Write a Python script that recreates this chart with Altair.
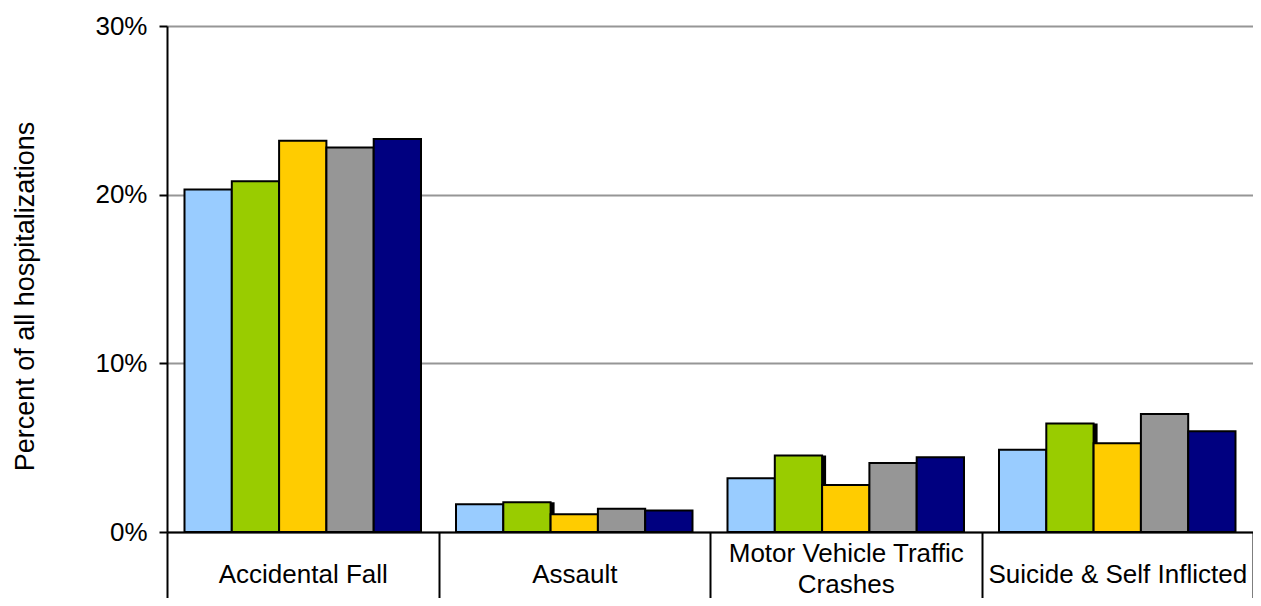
import altair as alt
import pandas as pd

categories = ["Accidental Fall", "Assault", "Motor Vehicle Traffic Crashes", "Suicide & Self Inflicted"]
series = ["Series 1", "Series 2", "Series 3", "Series 4", "Series 5"]
colors = ["#99CCFF", "#99CC00", "#FFCC00", "#969696", "#000080"]

series1 = [20.3, 1.64, 3.19, 4.88]
series2 = [20.8, 1.77, 4.53, 6.44]
series3 = [23.2, 1.05, 2.79, 5.26]
series4 = [22.8, 1.38, 4.09, 6.99]
series5 = [23.3, 1.28, 4.43, 5.97]
all_values = [series1, series2, series3, series4, series5]

y_ticks = [0, 10, 20, 30]

rows = []
for s, vals in zip(series, all_values):
    for c, v in zip(categories, vals):
        rows.append({"category": c, "series": s, "value": v})
df = pd.DataFrame(rows)

FONT = "Liberation Sans"
W = 1086
H = 506
CAT_W = W / len(categories)

x_enc = alt.X(
    "category:N",
    sort=categories,
    scale=alt.Scale(paddingInner=0, paddingOuter=0),
    axis=alt.Axis(
        title=None,
        labelAngle=0,
        tickBand="extent",
        tickSize=66,
        tickWidth=2,
        tickColor="black",
        domainColor="black",
        domainWidth=2,
        labelFont=FONT,
        labelFontSize=26,
        labelColor="black",
        labelLimit=0,
        labelPadding=-36.7,
        labelLineHeight=31,
        labelBaseline={
            "condition": {"test": "datum.value === 'Motor Vehicle Traffic Crashes'", "value": "alphabetic"},
            "value": "top",
        },
        labelExpr="datum.value === 'Motor Vehicle Traffic Crashes' ? ['Motor Vehicle Traffic', 'Crashes'] : datum.label",
    ),
)

x_off = alt.XOffset(
    "series:N",
    sort=series,
    scale=alt.Scale(domain=series, paddingInner=0, paddingOuter=0.37),
)

x_off_shadow = alt.XOffset(
    "series:N",
    sort=series,
    scale=alt.Scale(domain=series, paddingInner=0, paddingOuter=0.37, range=[4, CAT_W + 4]),
)

y_enc = alt.Y(
    "value:Q",
    scale=alt.Scale(domain=[0, 30], nice=False, zero=True),
    axis=alt.Axis(
        values=y_ticks,
        labelExpr="datum.value + '%'",
        title="Percent of all hospitalizations",
        titleFont=FONT,
        titleFontSize=27,
        titleFontWeight="normal",
        titleColor="black",
        titleBaseline="alphabetic",
        titleX=-134,
        titleY=270,
        labelFont=FONT,
        labelFontSize=26,
        labelColor="black",
        labelPadding=12,
        tickSize=8,
        tickWidth=2,
        tickColor="black",
        domainColor="black",
        domainWidth=2,
        grid=True,
        gridColor="#969696",
        gridWidth=2,
    ),
)

color_enc = alt.Color(
    "series:N",
    sort=series,
    scale=alt.Scale(domain=series, range=colors),
    legend=None,
)

base = alt.Chart(df)

shadow = base.transform_filter(alt.datum.series == "Series 2").mark_bar(
    color="black", y2Offset=4
).encode(x=x_enc, xOffset=x_off_shadow, y=y_enc)

bars = base.mark_bar(stroke="black", strokeWidth=2).encode(
    x=x_enc, xOffset=x_off, y=y_enc, color=color_enc
)

chart = (
    alt.layer(shadow, bars)
    .resolve_scale(xOffset="independent")
    .properties(
        width=W,
        height=H,
        autosize=alt.AutoSizeParams(type="none"),
        padding={"left": 159, "top": 18, "right": 0, "bottom": 66},
        background="white",
    )
    .configure_view(stroke=None)
)

chart.save("out.html", embed_options={"renderer": "svg", "actions": False})
